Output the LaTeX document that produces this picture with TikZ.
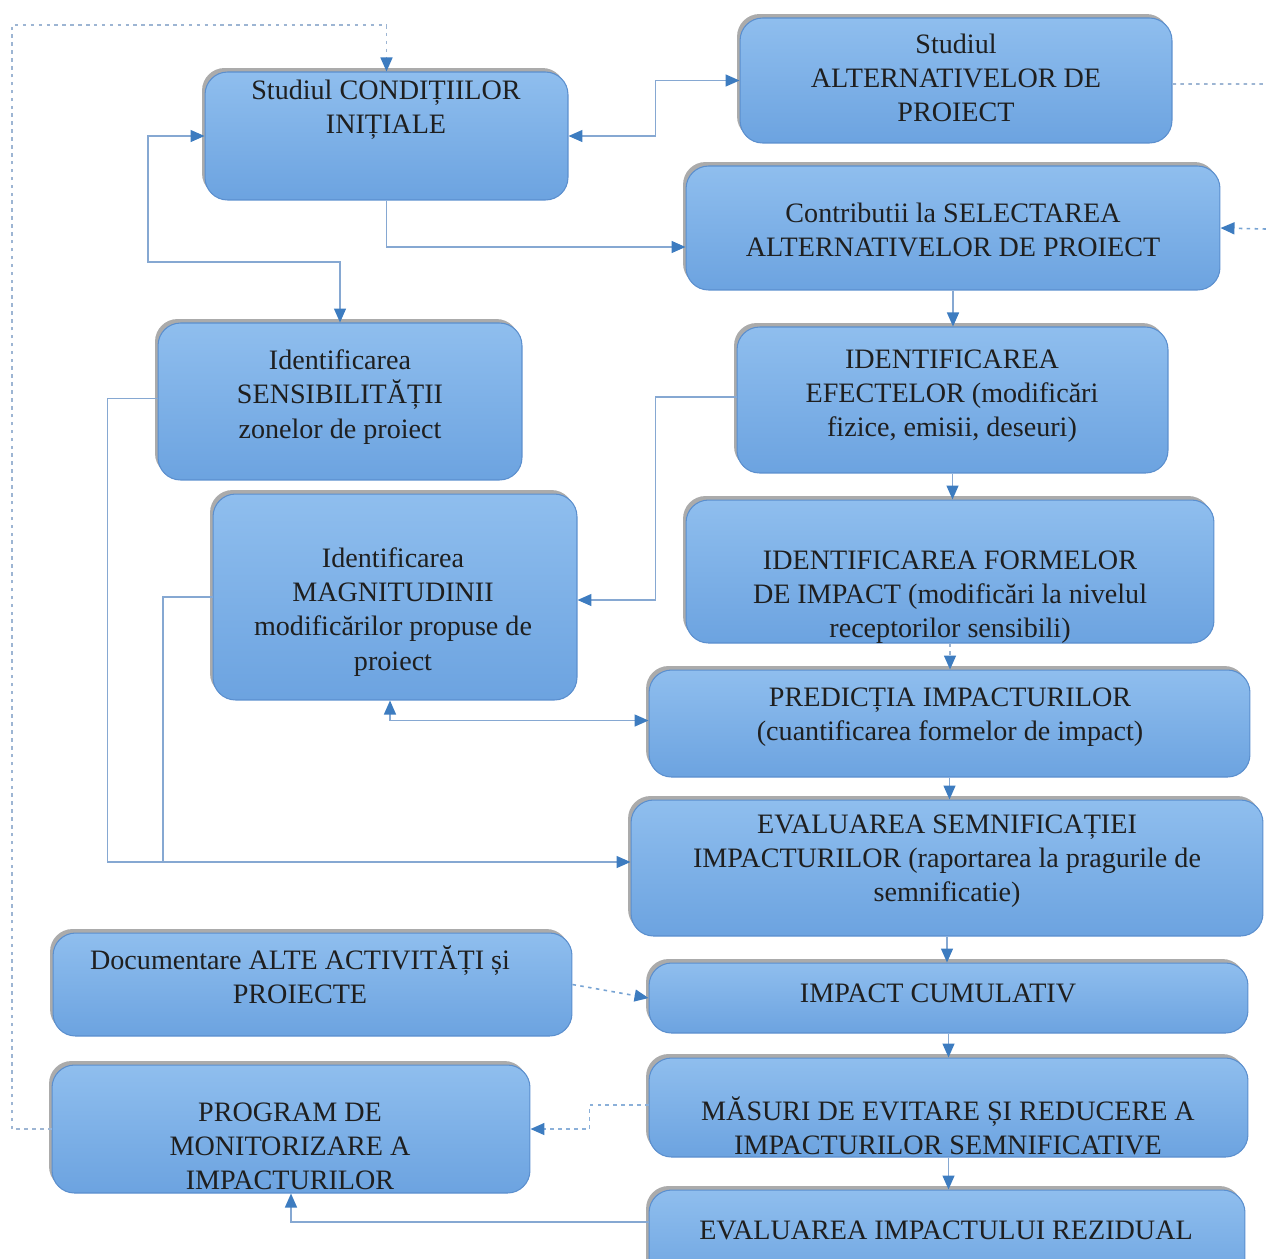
\documentclass[tikz,border=0pt]{standalone}
\usepackage{fontspec}
\setmainfont{Liberation Serif}
\usetikzlibrary{arrows.meta,shadows}
\definecolor{boxtop}{HTML}{8FBEEE}
\definecolor{boxbot}{HTML}{6CA3E0}
\definecolor{boxline}{HTML}{5B8FCE}
\definecolor{linkc}{HTML}{86A8D2}
\definecolor{tipc}{HTML}{3D7CC0}
\definecolor{dotc}{HTML}{9DB5D3}

\begin{document}
\begin{tikzpicture}[x=0.02cm, y=-0.02cm,
  >={Triangle[length=0.28cm,width=0.24cm,color=tipc]},
  box/.style={draw=boxline, line width=0.6pt, rounded corners=0.45cm,
    top color=boxtop, bottom color=boxbot, inner sep=0pt,
    drop shadow={shadow xshift=-0.06cm, shadow yshift=0.08cm, fill=black!55, opacity=0.6}},
  txt/.style={font=\fontsize{16}{19.4}\selectfont, align=center, text=black!88},
  link/.style={draw=linkc, line width=0.8pt},
  dots/.style={draw=dotc, line width=0.9pt, dash pattern=on 2pt off 2.5pt}]
  \useasboundingbox (0,0) rectangle (1266,1258);
  \clip (0,0) rectangle (1266,1258);

  % boxes, left column
  \node[box, minimum width=7.26cm, minimum height=2.56cm] (ci) at (386.5,136) {};
  \node[txt] (ci-t) at (386,110) {Studiul CONDIȚIILOR\\INIȚIALE};
  \node[box, minimum width=7.28cm, minimum height=3.14cm] (sens) at (340,401.5) {};
  \node[txt] (sens-t) at (340,397) {Identificarea\\SENSIBILITĂȚII\\zonelor de proiect};
  \node[box, minimum width=7.28cm, minimum height=4.12cm] (mag) at (395,597) {};
  \node[txt] (mag-t) at (393,612) {Identificarea\\MAGNITUDINII\\modificărilor propuse de\\proiect};
  \node[box, minimum width=10.38cm, minimum height=2.06cm] (doc) at (312.5,984.5) {};
  \node[txt] (doc-t) at (300,975) {Documentare ALTE ACTIVITĂȚI și\\PROIECTE};
  \node[box, minimum width=9.56cm, minimum height=2.56cm] (mon) at (291,1129) {};
  \node[txt] (mon-t) at (290,1146) {PROGRAM DE\\MONITORIZARE A\\IMPACTURILOR};

  % boxes, right column
  \node[box, minimum width=8.64cm, minimum height=2.5cm] (alt) at (956,80.5) {};
  \node[txt] (alt-t) at (956,78) {Studiul\\ALTERNATIVELOR DE\\PROIECT};
  \node[box, minimum width=10.68cm, minimum height=2.48cm] (sel) at (953,228) {};
  \node[txt] (sel-t) at (953,230) {Contributii la SELECTAREA\\ALTERNATIVELOR DE PROIECT};
  \node[box, minimum width=8.62cm, minimum height=2.92cm] (efe) at (952.5,400) {};
  \node[txt] (efe-t) at (952,396) {IDENTIFICAREA\\EFECTELOR (modificări\\fizice, emisii, deseuri)};
  \node[box, minimum width=10.56cm, minimum height=2.86cm] (form) at (950,571.5) {};
  \node[txt] (form-t) at (950,597) {IDENTIFICAREA FORMELOR\\DE IMPACT (modificări la nivelul\\receptorilor sensibili)};
  \node[box, minimum width=12.02cm, minimum height=2.14cm] (pred) at (949.5,723.5) {};
  \node[txt] (pred-t) at (950,717) {PREDICȚIA IMPACTURILOR\\(cuantificarea formelor de impact)};
  \node[box, minimum width=12.64cm, minimum height=2.72cm] (sem) at (947,868) {};
  \node[txt] (sem-t) at (947,861) {EVALUAREA SEMNIFICAȚIEI\\IMPACTURILOR (raportarea la pragurile de\\semnificatie)};
  \node[box, minimum width=11.98cm, minimum height=1.4cm] (cum) at (948.5,998) {};
  \node[txt] (cum-t) at (938,993) {IMPACT CUMULATIV};
  \node[box, minimum width=11.98cm, minimum height=1.98cm] (mas) at (948.5,1107.5) {};
  \node[txt] (mas-t) at (948,1126) {MĂSURI DE EVITARE ȘI REDUCERE A\\IMPACTURILOR SEMNIFICATIVE};
  \node[box, minimum width=11.92cm, minimum height=2.0cm] (rez) at (947,1240) {};
  \node[txt] (rez-t) at (946,1230) {EVALUAREA IMPACTULUI REZIDUAL};

  % free ends and joints
  \coordinate (topl) at (12,25);
  \coordinate (altout) at (1266,84);
  \coordinate (selin) at (1266,229);
  \coordinate (loopl) at (148,262);
  \coordinate (magj) at (163,862);

  % connectors
  \draw[link, <->] (ci.east) -- ++(87,0) |- (alt.west);
  \draw[link, ->] (ci.south) |- ([yshift=-0.38cm]sel.west);
  \draw[link, <->] (sens.north) |- (loopl) |- (ci.west);
  \draw[dots, ->] (mon.west) -| (topl) -| (ci.north);
  \draw[dots] ([yshift=-0.07cm]alt.east) -- (altout);
  \draw[dots, draw=tipc!70, ->] (selin) -- (sel.east);
  \draw[link, ->] (sel.south) -- (sel.south |- efe.north);
  \draw[link, ->] ([yshift=0.06cm]efe.west) -- ++(-81,0) |- ([yshift=-0.06cm]mag.east);
  \draw[link, ->] (efe.south) -- (efe.south |- form.north);
  \draw[dots, ->] (form.south) -- (form.south |- pred.north);
  \draw[link, <->] ([xshift=-0.1cm]mag.south) |- ([yshift=0.06cm]pred.west);
  \draw[link, ->] (pred.south) -- (pred.south |- sem.north);
  \draw[link, ->] ([yshift=0.06cm]sens.west) -- ++(-50,0) |- ([yshift=0.12cm]sem.west);
  \draw[link] (mag.west) -| (magj);
  \draw[link, ->] (sem.south) -- (sem.south |- cum.north);
  \draw[dots, draw=tipc!70, ->] (doc.east) -- (cum.west);
  \draw[link, ->] (cum.south) -- (cum.south |- mas.north);
  \draw[dots, draw=tipc!60, ->] ([yshift=0.05cm]mas.west) -- ++(-59,0) |- (mon.east);
  \draw[link, ->] (mas.south) -- (mas.south |- rez.north);
  \draw[link, ->] ([yshift=0.36cm]rez.west) -| (mon.south);
\end{tikzpicture}
\end{document}
